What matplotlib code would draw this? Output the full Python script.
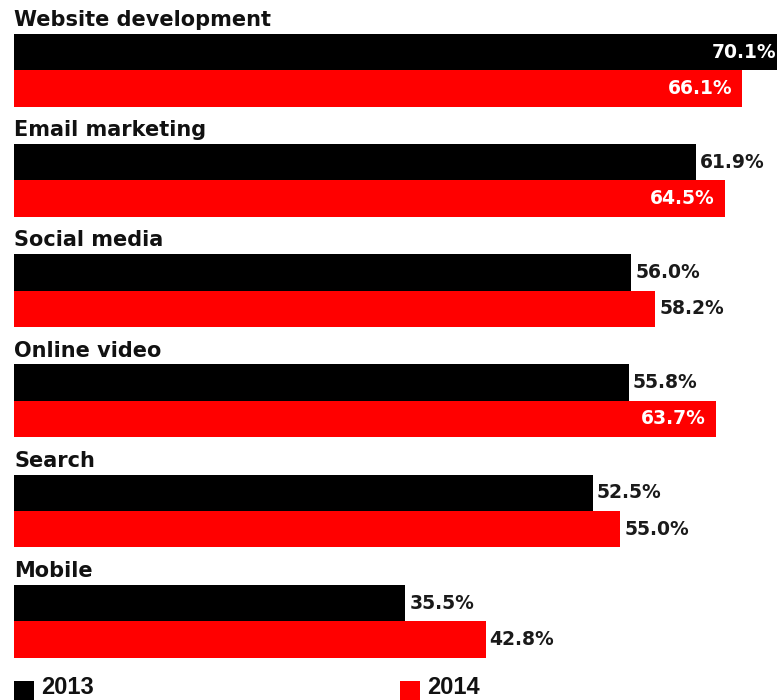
import numpy as np
import matplotlib
matplotlib.use("Agg")
import matplotlib.pyplot as plt
from matplotlib.patches import Rectangle

plt.rcParams['font.family'] = ['DejaVu Sans']

categories = ['Website development', 'Email marketing', 'Social media',
              'Online video', 'Search', 'Mobile']
vals_2013 = [70.1, 61.9, 56.0, 55.8, 52.5, 35.5]
vals_2014 = [66.1, 64.5, 58.2, 63.7, 55.0, 42.8]
series_labels = ['2013', '2014']
series_colors = ['#000000', '#FF0000']

W, H = 777, 700
fig = plt.figure(figsize=(W / 100, H / 100), dpi=100)
fig.patch.set_facecolor('white')

# one y unit = one category block (~110 px)
ax = fig.add_axes([14 / W, 0, (W - 14) / W, 1])
ax.set_xlim(0, 69.24)
ax.set_ylim(5.880, -0.472)
ax.axis('off')

bar_h = 0.33
y = np.arange(len(categories))

for k, (vals, col) in enumerate(zip([vals_2013, vals_2014], series_colors)):
    yy = y + k * bar_h
    ax.barh(yy, vals, height=bar_h, color=col, linewidth=0)
    for v, yc in zip(vals, yy):
        if v > 63:
            ax.annotate(f'{v:.1f}%', (v, yc), xytext=(-10, 0),
                        textcoords='offset pixels', ha='right', va='center',
                        color='white', fontsize=13.5, fontweight='bold',
                        annotation_clip=False)
        else:
            ax.annotate(f'{v:.1f}%', (v, yc), xytext=(4, 0),
                        textcoords='offset pixels', ha='left', va='center',
                        color='#1a1a1a', fontsize=13.5, fontweight='bold',
                        annotation_clip=False)

for i, name in enumerate(categories):
    ax.text(0, i - 0.236, name, ha='left', va='baseline', fontsize=15,
            fontweight='bold', color='#111111')

# legend along the bottom edge
leg_x = [14, 400]
for lx, lab, col in zip(leg_x, series_labels, series_colors):
    fig.patches.append(Rectangle((lx / W, 1 - 700 / H), 20 / W, 19 / H,
                                 transform=fig.transFigure, color=col,
                                 linewidth=0))
    fig.text((lx + 27) / W, 1 - 699 / H, lab, ha='left', va='bottom',
             fontsize=17, fontweight='bold', color='#111111',
             family=['Liberation Sans', 'DejaVu Sans'])

fig.savefig('out.png', dpi=100, facecolor='white')
